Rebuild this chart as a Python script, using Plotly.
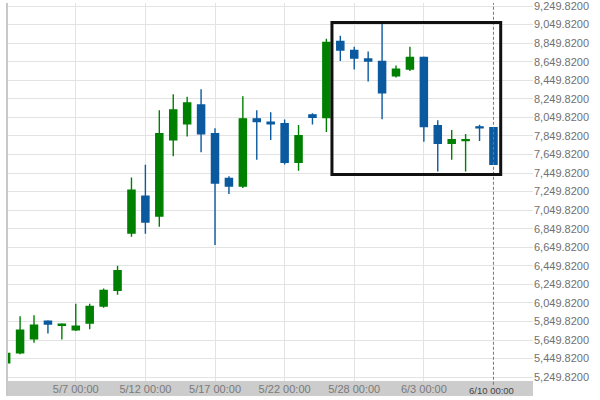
import plotly.graph_objects as go

dates = ["5/2", "5/3", "5/4", "5/5", "5/6", "5/7", "5/8", "5/9", "5/10", "5/11",
         "5/12", "5/13", "5/14", "5/15", "5/16", "5/17", "5/18", "5/19", "5/20", "5/21",
         "5/22", "5/23", "5/24", "5/25", "5/27", "5/28", "5/29", "5/30", "5/31", "6/2",
         "6/3", "6/4", "6/5", "6/7", "6/8", "6/10"]
open_ = [5405, 5513, 5662, 5852, 5809, 5759, 5834, 6016, 6187, 6804,
         7200, 6986, 7809, 7981, 8184, 7873, 7392, 7310, 8034, 7999,
         7981, 7566, 8077, 8048, 8868, 8772, 8679, 8654, 8497, 8571,
         8697, 7959, 7770, 7799, 7948, 7938]
high = [5514, 5906, 5917, 5863, 5830, 6041, 6041, 6204, 6451, 7403,
        7539, 8127, 8298, 8273, 8354, 7934, 7414, 8277, 8127, 8106,
        8027, 7967, 8095, 8898, 8930, 8812, 8761, 9061, 8608, 8812,
        8707, 8020, 7913, 7870, 7970, 7940]
low = [5399, 5496, 5620, 5720, 5656, 5748, 5766, 5998, 6138, 6764,
       6796, 6871, 7631, 7844, 7674, 6673, 7225, 7288, 7592, 7806,
       7542, 7475, 7973, 7891, 8657, 8566, 8437, 8031, 8480, 8550,
       7787, 7466, 7592, 7466, 7796, 7545]
close = [5506, 5756, 5809, 5823, 5820, 5799, 6012, 6184, 6398, 7264,
         6922, 7873, 8130, 8205, 7873, 7342, 7310, 8034, 8005, 7981,
         7566, 7852, 8050, 8858, 8775, 8689, 8657, 8316, 8568, 8697,
         7952, 7770, 7809, 7809, 7938, 7545]

x_tick_vals = ["5/7", "5/12", "5/17", "5/22", "5/28", "6/3"]
x_tick_text = ["5/7 00:00", "5/12 00:00", "5/17 00:00", "5/22 00:00", "5/28 00:00", "6/3 00:00"]
y_tick_vals = [5249.82 + 200 * i for i in range(21)]
current_label = "6/10 00:00"
current_date = "6/10"

box_x = [23.4, 35.52]
box_y = [7433, 9072]

GREEN = "#008000"
BLUE = "#0b5a9f"

fig = go.Figure(go.Candlestick(
    x=dates, open=open_, high=high, low=low, close=close,
    increasing=dict(line=dict(color=GREEN, width=1.4), fillcolor=GREEN),
    decreasing=dict(line=dict(color=BLUE, width=1.4), fillcolor=BLUE),
    whiskerwidth=0, hoverinfo="skip",
))

cur_idx = dates.index(current_date)

fig.update_layout(
    width=600, height=400,
    margin=dict(l=7, r=67, t=0, b=19),
    paper_bgcolor="white", plot_bgcolor="white",
    font=dict(family="Liberation Sans, Arial, sans-serif", size=11, color="#666"),
    showlegend=False,
    boxgap=0.27,
    xaxis=dict(
        type="category", range=[0.06, 37.84],
        rangeslider=dict(visible=False),
        tickmode="array", tickvals=x_tick_vals, ticktext=x_tick_text,
        showgrid=True, gridcolor="#e3e3e3", gridwidth=1,
        showline=False, zeroline=False, ticks="",
        tickfont=dict(size=11, color="#7a7a7a"),
        ticklabeloverflow="allow",
    ),
    yaxis=dict(
        side="right", range=[5208, 9283],
        tickmode="array", tickvals=y_tick_vals, tickformat=",.4f",
        showgrid=True, gridcolor="#e3e3e3", gridwidth=1,
        showline=False, zeroline=False, ticks="",
        tickfont=dict(size=11, color="#707070"),
        ticklabeloverflow="allow",
    ),
    shapes=[
        dict(type="rect", xref="paper", yref="paper", x0=0, x1=1, y0=-15 / 381, y1=0,
             fillcolor="#cccccc", line=dict(width=0), layer="below"),
        dict(type="line", xref="paper", yref="paper", x0=0, x1=0, y0=-15 / 381, y1=1,
             line=dict(color="#c8c8c8", width=2)),
        dict(type="line", xref="x", yref="paper", x0=cur_idx, x1=cur_idx, y0=-0.01, y1=1,
             line=dict(color="#777", width=1, dash="3px,2px")),
        dict(type="rect", xref="x", yref="y", x0=box_x[0], x1=box_x[1], y0=box_y[0], y1=box_y[1],
             line=dict(color="#111", width=3)),
    ],
    annotations=[
        dict(xref="x", yref="paper", x=cur_idx, y=-0.005, text=current_label, showarrow=False,
             yanchor="top", xanchor="center", xshift=-2,
             font=dict(size=9.5, color="#444", family="Liberation Sans, Arial, sans-serif")),
    ],
)

fig.write_html("out.html", config={"displayModeBar": False, "staticPlot": True},
               post_script="document.body.style.margin='0';document.body.style.overflow='hidden';")
